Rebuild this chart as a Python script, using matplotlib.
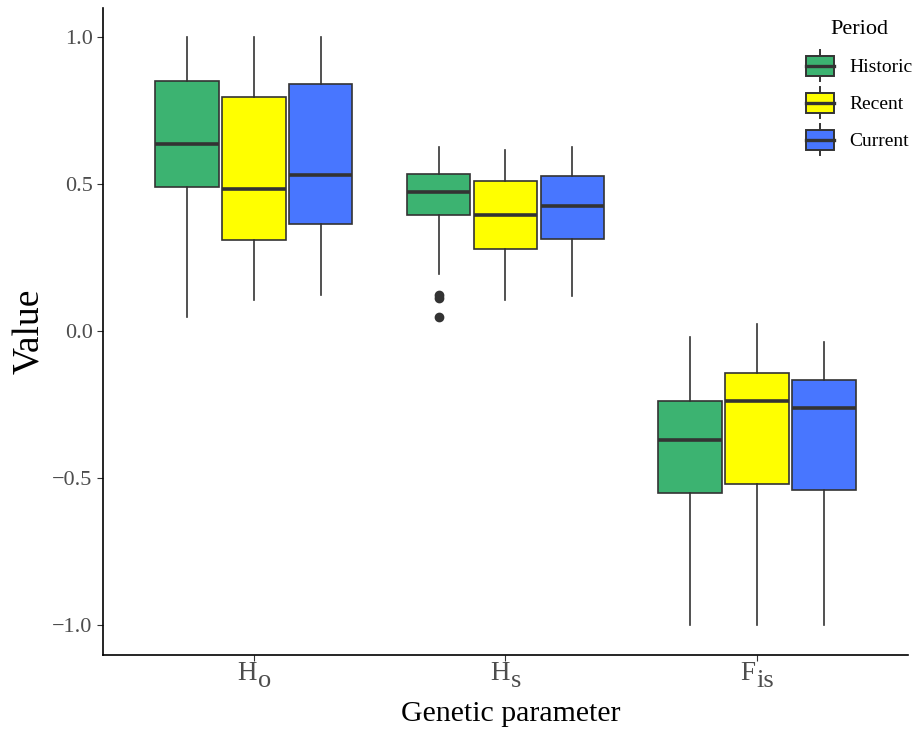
import matplotlib
matplotlib.use("Agg")
import matplotlib.pyplot as plt
from matplotlib.patches import Rectangle, Patch
from matplotlib.lines import Line2D
from matplotlib.legend_handler import HandlerBase

plt.rcParams['font.family'] = ['Liberation Serif', 'DejaVu Serif']

param_main = ['H', 'H', 'F']
param_sub = ['o', 's', 'is']
periods = ['Historic', 'Recent', 'Current']
colors = ['#3CB371', '#FFFF00', '#4876FF']

# whislo, q1, med, q3, whishi per parameter per period
stats_ho = [(0.048, 0.491, 0.637, 0.852, 1.0),
            (0.106, 0.312, 0.484, 0.796, 1.0),
            (0.123, 0.365, 0.531, 0.840, 1.0)]
stats_hs = [(0.196, 0.395, 0.474, 0.535, 0.627),
            (0.106, 0.279, 0.395, 0.511, 0.617),
            (0.119, 0.313, 0.426, 0.528, 0.627)]
stats_fis = [(-1.0, -0.549, -0.371, -0.238, -0.020),
             (-1.0, -0.518, -0.235, -0.143, 0.024),
             (-1.0, -0.538, -0.262, -0.164, -0.037)]
outliers_hs_historic = [0.123, 0.112, 0.048]

all_stats = [stats_ho, stats_hs, stats_fis]

fig = plt.figure(figsize=(9.19, 7.30), dpi=100)
ax = fig.add_axes([0.112, 0.103, 0.876, 0.886])

edge = '#333333'
txtgrey = '#4D4D4D'
offset = 0.266
bw = 0.252
for i, group in enumerate(all_stats):
    for j, s in enumerate(group):
        lo, q1, med, q3, hi = s
        fl = outliers_hs_historic if (i == 1 and j == 0) else []
        d = dict(whislo=lo, q1=q1, med=med, q3=q3, whishi=hi, fliers=fl)
        ax.bxp([d], positions=[i + 1 + (j - 1) * offset], widths=bw,
               showcaps=False, patch_artist=True,
               boxprops=dict(facecolor=colors[j], edgecolor=edge, linewidth=1.2),
               medianprops=dict(color=edge, linewidth=2.6),
               whiskerprops=dict(color=edge, linewidth=1.2),
               flierprops=dict(marker='o', markerfacecolor=edge, markeredgecolor=edge,
                               markersize=6))

ax.set_xlim(0.4, 3.6)
ax.set_ylim(-1.1, 1.1)
ax.set_xticks([1, 2, 3])
ax.set_xticklabels(['', '', ''])
ax.set_yticks([-1.0, -0.5, 0.0, 0.5, 1.0])
ax.set_yticklabels(['\u22121.0', '\u22120.5', '0.0', '0.5', '1.0'])
ax.tick_params(labelsize=16, labelcolor=txtgrey, color='#333333', length=4)
for sp in ['top', 'right']:
    ax.spines[sp].set_visible(False)
for sp in ['left', 'bottom']:
    ax.spines[sp].set_linewidth(1.2)
ax.set_xlabel('Genetic parameter', fontsize=21.5, va='top')
ax.xaxis.set_label_coords(0.506, -0.071)
ax.set_ylabel('Value', fontsize=27)
ax.yaxis.set_label_coords(-0.069, 0.5)

# x tick labels with large subscripts
fig.canvas.draw()
r = fig.canvas.get_renderer()
pt = fig.dpi / 72.0
for k, (m, s) in enumerate(zip(param_main, param_sub)):
    t1 = ax.annotate(m, xy=(k + 1, 0), xycoords=('data', 'axes fraction'),
                     xytext=(0, -18), textcoords='offset points', ha='left',
                     va='baseline', fontsize=19.5, color=txtgrey, annotation_clip=False)
    t2 = ax.annotate(s, xy=(k + 1, 0), xycoords=('data', 'axes fraction'),
                     xytext=(0, -23), textcoords='offset points', ha='left',
                     va='baseline', fontsize=19, color=txtgrey, annotation_clip=False)
    w1 = t1.get_window_extent(r).width / pt
    w2 = t2.get_window_extent(r).width / pt
    tot = w1 + 1 + w2
    t1.xyann = (-tot / 2, -18)
    t2.xyann = (-tot / 2 + w1 + 1, -23)


class BoxHandler(HandlerBase):
    def create_artists(self, legend, orig_handle, xdescent, ydescent,
                       width, height, fontsize, trans):
        cx = -xdescent + width / 2
        cy = -ydescent + height / 2
        bwid = width
        bh = height * 0.65
        arts = [
            Line2D([cx, cx], [-ydescent, -ydescent + height], color=edge, lw=1.4,
                   transform=trans),
            Rectangle((cx - bwid / 2, cy - bh / 2), bwid, bh, facecolor=orig_handle.get_facecolor(),
                      edgecolor=edge, lw=1.4, transform=trans),
            Line2D([cx - bwid / 2, cx + bwid / 2], [cy, cy], color=edge, lw=2.4, transform=trans),
        ]
        return arts


handles = [Patch(facecolor=c) for c in colors]
leg = ax.legend(handles, periods, handler_map={Patch: BoxHandler()}, title='Period',
                loc='upper right', bbox_to_anchor=(1.0274, 1.008), frameon=False,
                fontsize=14, title_fontsize=16, handlelength=1.45, handleheight=2.07,
                labelspacing=0.31, handletextpad=0.8)
leg._legend_box.sep = 8

fig.savefig('out.png', dpi=100)
